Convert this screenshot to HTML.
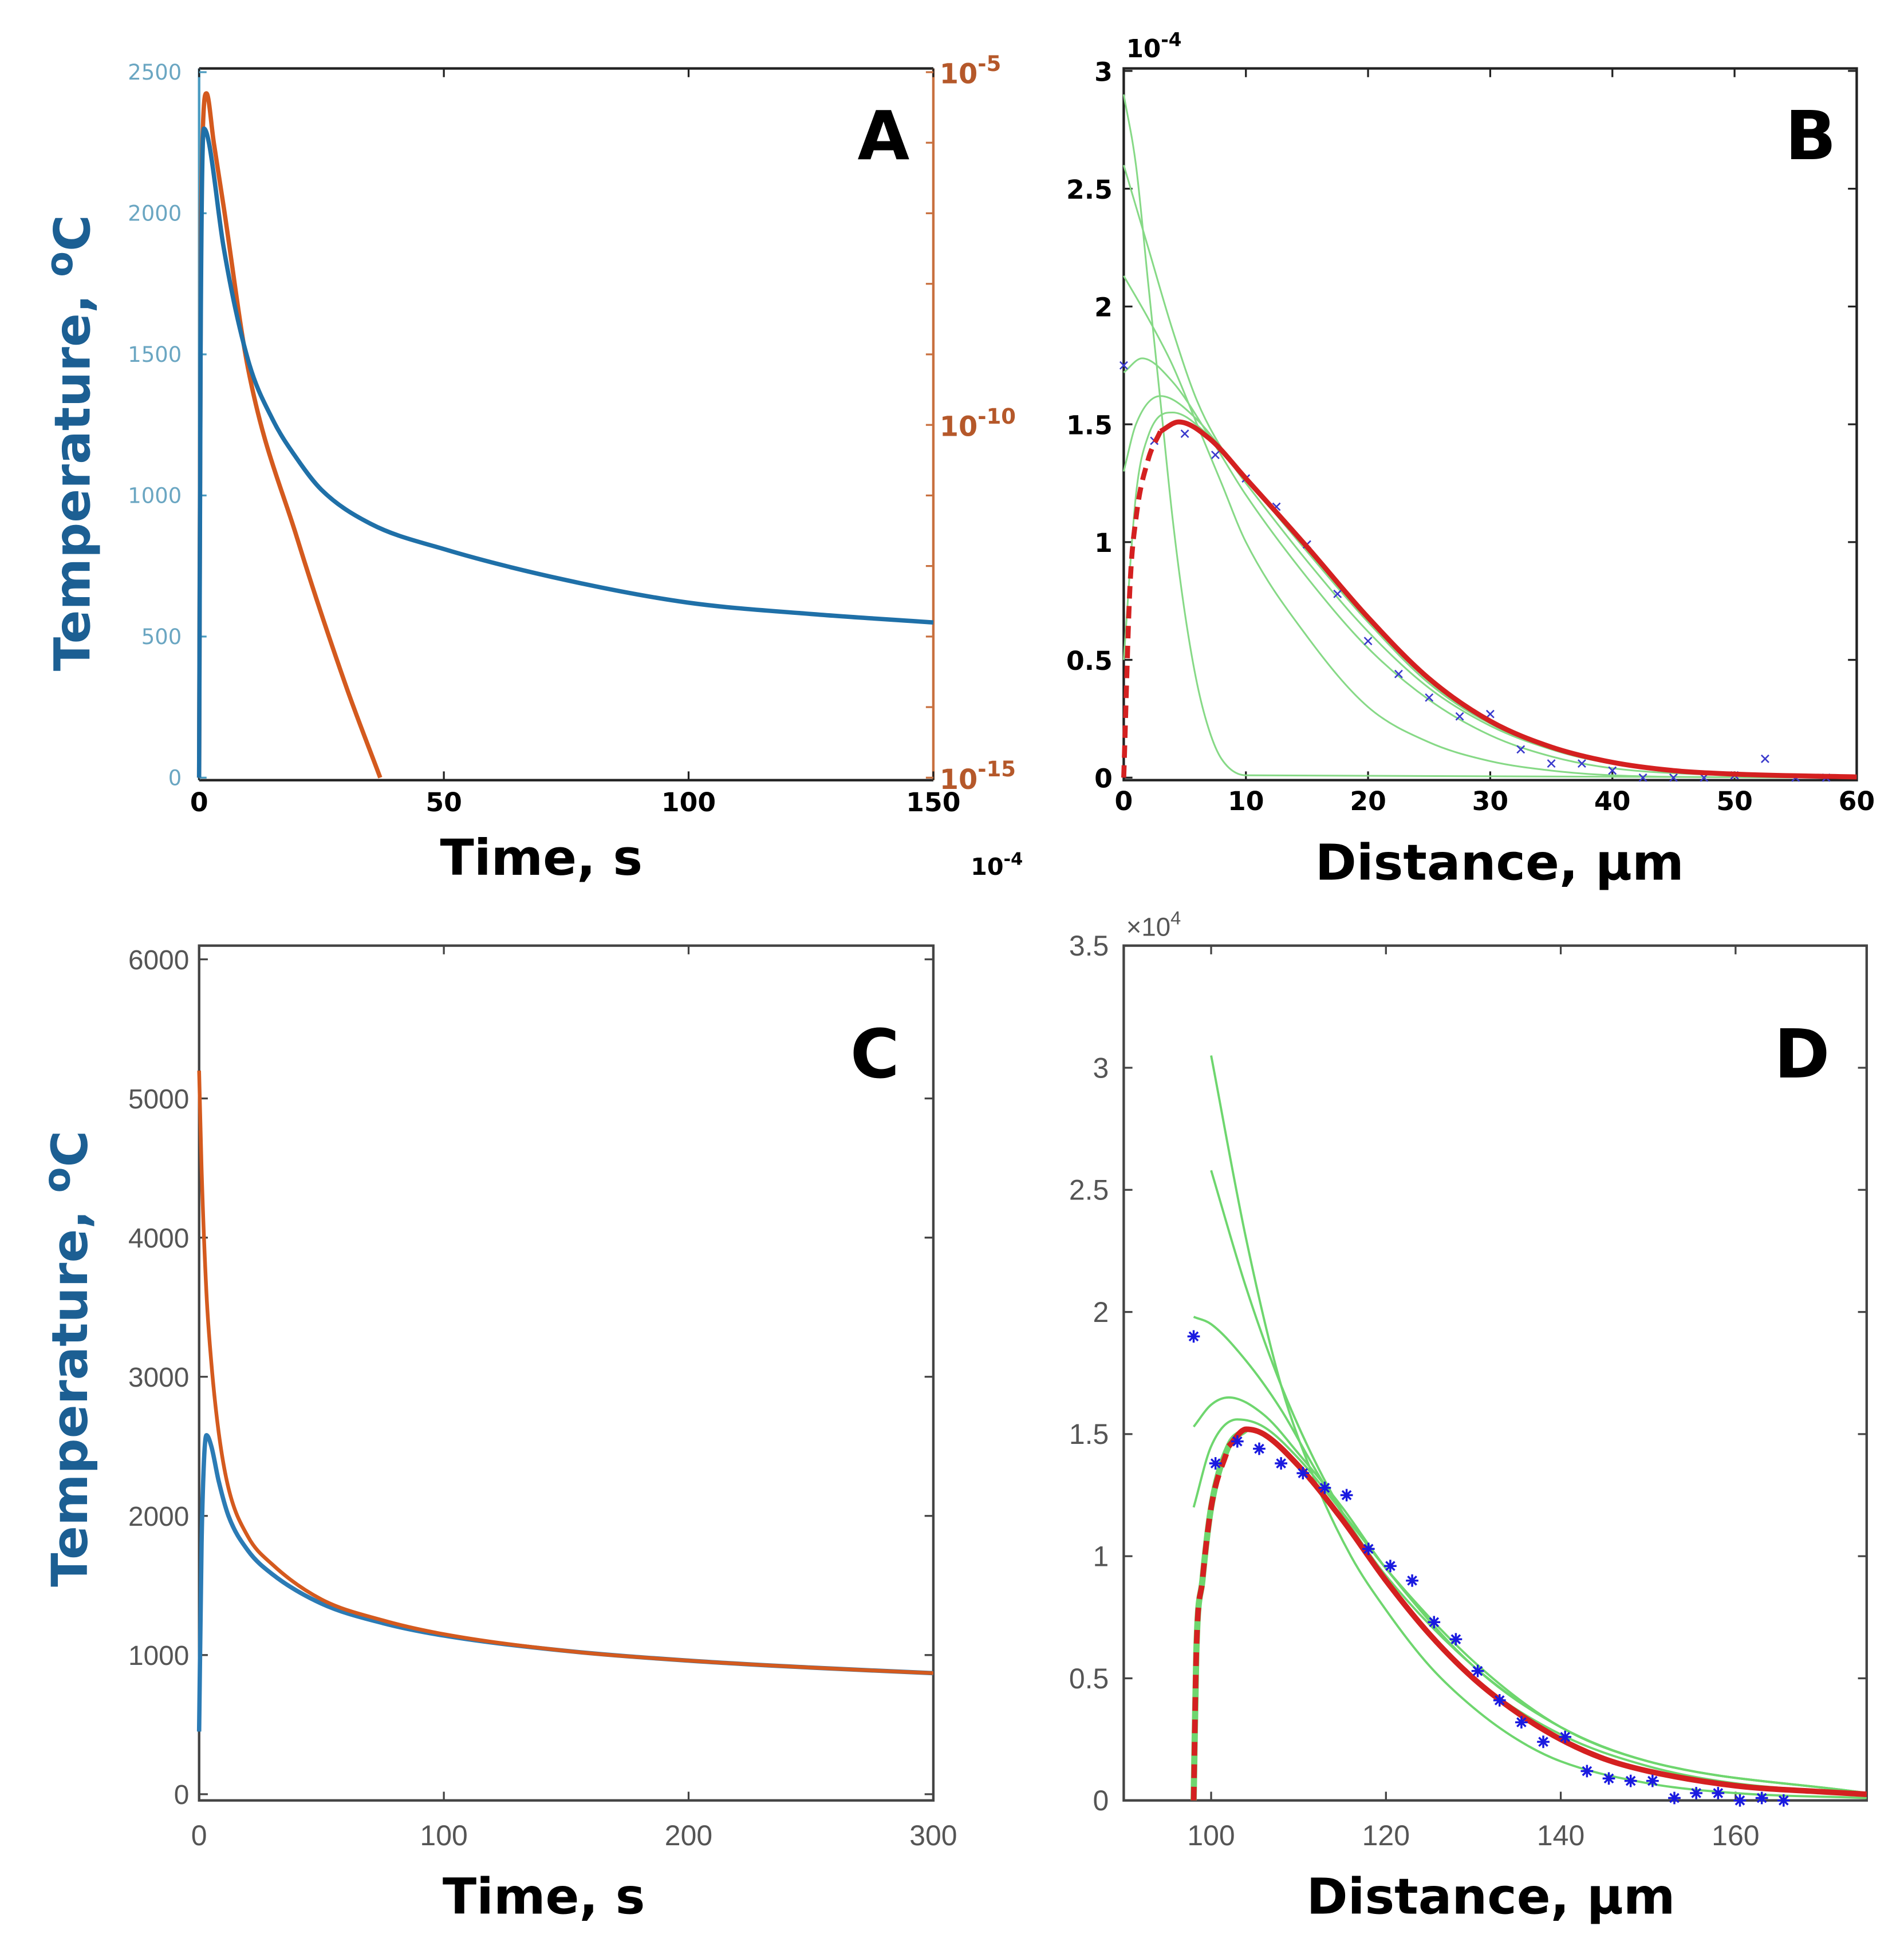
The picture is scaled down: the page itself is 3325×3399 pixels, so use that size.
<!DOCTYPE html>
<html><head><meta charset="utf-8"><style>
html,body{margin:0;padding:0;background:#fff}
svg{display:block}
text{font-family:"Liberation Sans","DejaVu Sans",sans-serif}
.vb{font-family:"DejaVu Sans","Liberation Sans",sans-serif;font-weight:bold}
.vn{font-family:"DejaVu Sans","Liberation Sans",sans-serif;font-weight:normal}
</style></head><body>
<svg id="fig" xmlns="http://www.w3.org/2000/svg" width="3325" height="3399" viewBox="0 0 1530 1564" preserveAspectRatio="none">
<rect x="0" y="0" width="1530" height="1564" fill="#fff"/>
<g id="g"></g>
</svg>
<script>
// ---- Panel A data ----
const aTime=[0,0.3,1,2,5,10,15,20,25,35,50,75,100,125,150];
const aTemp=[0,1500,2300,2250,1880,1480,1270,1130,1020,900,810,700,620,580,550];
const aDiffTime=[0,0.4,1.5,3,5,10,20,30,37];
const aDiffLog=[-15,-7,-5.3,-6.0,-6.9,-9.2,-11.6,-13.7,-15];
const aXTicks=[0,50,100,150];
const aYTicks=[0,500,1000,1500,2000,2500];
const aRTicks=[-15,-10,-5];
// ---- Panel B data ----
const bX=[0,0.5,1,2,3,4.5,7,10,15,20,25,30,35,40,45,50,60];
const bRed=[0,0.8,1.1,1.35,1.47,1.51,1.44,1.27,0.98,0.68,0.42,0.24,0.13,0.065,0.03,0.015,0.003];
const bG1x=[0,1,2,3,4,5,6,7,8,10,60];
const bG1=[2.9,2.6,2.1,1.6,1.1,0.7,0.4,0.2,0.08,0.01,0];
const bG2x=[0,2,4,6,8,10,15,20,25,30,35,40,50,60];
const bG2=[2.6,2.25,1.9,1.6,1.4,1.27,0.97,0.67,0.41,0.23,0.12,0.06,0.015,0.003];
const bG3x=[0,2,4,6,8,10,15,20,25,30,35,40,50,60];
const bG3=[2.13,1.95,1.75,1.5,1.25,1.0,0.6,0.3,0.15,0.07,0.03,0.01,0.002,0];
const bG4x=[0,1.5,4,7,10,15,20,25,30,35,40,50,60];
const bG4=[1.72,1.78,1.68,1.45,1.2,0.85,0.55,0.33,0.18,0.09,0.04,0.01,0.002];
const bG5x=[0,1,3,6,10,15,20,25,30,35,40,50,60];
const bG5=[1.3,1.5,1.62,1.52,1.25,0.92,0.62,0.38,0.22,0.12,0.06,0.02,0.003];
const bG6x=[0,1,2,4,7,10,15,20,25,30,40,50,60];
const bG6=[0.5,1.2,1.45,1.55,1.45,1.27,0.96,0.66,0.4,0.23,0.06,0.014,0.003];
const bPx=[0,2.5,5,7.5,10,12.5,15,17.5,20,22.5,25,27.5,30,32.5,35,37.5,40,42.5,45,47.5,50,52.5,55,57.5];
const bPy=[1.75,1.43,1.46,1.37,1.27,1.15,0.99,0.78,0.58,0.44,0.34,0.26,0.27,0.12,0.06,0.06,0.03,0,0,0,0.01,0.08,0,0];
const bXTicks=[0,10,20,30,40,50,60];
const bYTicks=[0,0.5,1,1.5,2,2.5,3];
// ---- Panel C data ----
const cTimeO=[0,1,3,5,8,12,20,30,50,75,100,150,200,250,300];
const cOrange=[5200,4500,3600,3100,2600,2200,1850,1650,1400,1250,1150,1030,960,910,870];
const cTimeB=[0,1,2,3,5,8,12,20,30,50,75,100,150,200,250,300];
const cBlue=[450,1800,2400,2580,2500,2250,2000,1750,1580,1370,1230,1140,1030,960,910,870];
const cXTicks=[0,100,200,300];
const cYTicks=[0,1000,2000,3000,4000,5000,6000];
// ---- Panel D data ----
const dX=[98,98.3,99,100,102,104,106,110,115,120,125,130,135,140,145,150,160,170,175];
const dRed=[0,0.6,0.9,1.2,1.45,1.52,1.5,1.37,1.15,0.9,0.68,0.5,0.36,0.25,0.17,0.12,0.06,0.035,0.025];
const dG1x=[100,104,108,112,116,120,125,130,135,140,150,160,175];
const dG1=[3.05,2.3,1.7,1.3,1.0,0.78,0.55,0.38,0.25,0.16,0.07,0.03,0.01];
const dG2x=[100,104,108,112,116,120,125,130,140,150,160,175];
const dG2=[2.58,2.1,1.7,1.38,1.12,0.9,0.68,0.5,0.27,0.14,0.07,0.03];
const dG3x=[98,100,104,108,112,116,120,130,140,150,175];
const dG3=[1.98,1.95,1.8,1.6,1.35,1.12,0.92,0.55,0.3,0.16,0.03];
const dG4x=[98,100,102,106,110,115,120,130,140,150,175];
const dG4=[1.53,1.62,1.65,1.58,1.42,1.2,0.95,0.55,0.3,0.16,0.03];
const dG5x=[98,100,103,106,110,115,120,130,140,150,175];
const dG5=[1.2,1.45,1.56,1.53,1.4,1.18,0.95,0.57,0.3,0.16,0.03];
const dPx=[98,100.5,103,105.5,108,110.5,113,115.5,118,120.5,123,125.5,128,130.5,133,135.5,138,140.5,143,145.5,148,150.5,153,155.5,158,160.5,163,165.5];
const dPy=[1.9,1.38,1.47,1.44,1.38,1.34,1.28,1.25,1.03,0.96,0.90,0.73,0.66,0.53,0.41,0.32,0.24,0.26,0.12,0.09,0.08,0.08,0.01,0.03,0.03,0,0.01,0];
const dXTicks=[100,120,140,160];
const dYTicks=[0,0.5,1,1.5,2,2.5,3,3.5];

const NS='http://www.w3.org/2000/svg';
const root=document.getElementById('g');
function mk(tag,attrs,parent){const e=document.createElementNS(NS,tag);for(const k in attrs)e.setAttribute(k,attrs[k]);(parent||root).appendChild(e);return e;}
function lin(d0,d1,r0,r1){return v=>r0+(v-d0)/(d1-d0)*(r1-r0);}
// monotone cubic (Fritsch-Carlson) in screen space
function smooth(xs,ys,sx,sy){
  const X=xs.map(sx),Y=ys.map(sy),n=X.length;
  if(n<2)return '';
  const d=[],m=new Array(n);
  for(let i=0;i<n-1;i++)d.push((Y[i+1]-Y[i])/(X[i+1]-X[i]||1e-6));
  m[0]=d[0];m[n-1]=d[n-2];
  for(let i=1;i<n-1;i++){m[i]=(d[i-1]*d[i]<=0)?0:(d[i-1]+d[i])/2;}
  for(let i=0;i<n-1;i++){
    if(d[i]===0){m[i]=0;m[i+1]=0;continue;}
    const a=m[i]/d[i],b=m[i+1]/d[i],s=a*a+b*b;
    if(s>9){const t=3/Math.sqrt(s);m[i]=t*a*d[i];m[i+1]=t*b*d[i];}
  }
  let p='M'+X[0].toFixed(2)+','+Y[0].toFixed(2);
  for(let i=0;i<n-1;i++){
    const h=(X[i+1]-X[i])/3;
    p+=' C'+(X[i]+h).toFixed(2)+','+(Y[i]+m[i]*h).toFixed(2)+' '+(X[i+1]-h).toFixed(2)+','+(Y[i+1]-m[i+1]*h).toFixed(2)+' '+X[i+1].toFixed(2)+','+Y[i+1].toFixed(2);
  }
  return p;
}
function txt(s,x,y,attrs,parent){const t=mk('text',Object.assign({x:x,y:y},attrs),parent);t.textContent=s;return t;}

// ================= Panel A =================
const A={l:160,r:750,t:55,b:627};
const axA=lin(0,150,A.l,A.r), ayA=lin(0,2500,A.b-2,A.t+3), ayAR=lin(-15,-5,A.b-2,A.t+3);
const gA=mk('g',{});


const fA=mk('path',{d:`M${A.l},${A.t}H${A.r}M${A.l},${A.b}H${A.r}`,stroke:'#222','stroke-width':2,fill:'none'},gA);


const laA=mk('line',{x1:A.l,y1:A.t,x2:A.l,y2:A.b,stroke:'#4a9bc0','stroke-width':2},gA);


const raA=mk('line',{x1:A.r,y1:A.t,x2:A.r,y2:A.b,stroke:'#c8703f','stroke-width':2},gA);


aXTicks.forEach(v=>{
  const x=axA(v);
  const tk=mk('path',{d:`M${x},${A.b}v-7M${x},${A.t}v7`,stroke:'#222','stroke-width':1.5},gA);
  
  
  const t=txt(String(v),x,652,{'font-size':21,'text-anchor':'middle',fill:'#000',class:'vb'},gA);
  
  
});
aYTicks.forEach(v=>{
  const y=ayA(v);
  const tk=mk('line',{x1:A.l,y1:y,x2:A.l+6,y2:y,stroke:'#4a9bc0','stroke-width':1.5},gA);
  
  
  const t=txt(String(v),146,y+6,{'font-size':17,'text-anchor':'end',fill:'#6aa6c2',class:'vn'},gA);
  
  
});
for(let k=-15;k<=-5;k++){
  const y=ayAR(k);
  const tk=mk('line',{x1:A.r,y1:y,x2:A.r-6,y2:y,stroke:'#c8703f','stroke-width':1.5},gA);
  
  
}
aRTicks.forEach(k=>{
  const y=ayAR(k);
  const t=mk('text',{x:755,y:y+9,'font-size':22,fill:'#b5582a',class:'vb'},gA);
  
  
  t.innerHTML='10<tspan dy="-10" font-size="17">'+k+'</tspan>';
});
const pAO=mk('path',{d:smooth(aDiffTime,aDiffLog,axA,ayAR),stroke:'#d45a1e','stroke-width':3.5,fill:'none'},gA);


const pAB=mk('path',{d:smooth(aTime,aTemp,axA,ayA),stroke:'#1f70a8','stroke-width':3.5,fill:'none'},gA);


const lA=txt('A',710,128,{'font-size':54,'text-anchor':'middle',class:'vb'},gA);


const xtA=txt('Time, s',435,703,{'font-size':40,'text-anchor':'middle',class:'vb'},gA);


const ytA=mk('text',{x:0,y:0,transform:'translate(72,356) rotate(-90)','font-size':40,'text-anchor':'middle',fill:'#1c5f93',class:'vb'},gA);


ytA.innerHTML='Temperature, <tspan dy="-14" font-size="30">o</tspan><tspan dy="14">C</tspan>';
const stray=mk('text',{x:780,y:703,'font-size':19,class:'vb'},gA);


stray.innerHTML='10<tspan dy="-8" font-size="14">-4</tspan>';

// ================= Panel B =================
const B={l:903,r:1492,t:55,b:627};
const axB=lin(0,60,B.l,B.r), ayB=lin(0,3,B.b-2,B.t+2);
const gB=mk('g',{});


const fB=mk('rect',{x:B.l,y:B.t,width:B.r-B.l,height:B.b-B.t,fill:'none',stroke:'#222','stroke-width':2},gB);


bXTicks.forEach(v=>{
  const x=axB(v);
  const tk=mk('path',{d:`M${x},${B.b}v-7M${x},${B.t}v7`,stroke:'#222','stroke-width':1.5},gB);
  
  
  const t=txt(String(v),x,651,{'font-size':21,'text-anchor':'middle',class:'vb'},gB);
  
  
});
bYTicks.forEach(v=>{
  const y=ayB(v);
  const tk=mk('path',{d:`M${B.l},${y}h7M${B.r},${y}h-7`,stroke:'#222','stroke-width':1.5},gB);
  
  
  const t=txt(String(v),894,y+8,{'font-size':21,'text-anchor':'end',class:'vb'},gB);
  
  
});
const eB=mk('text',{x:905,y:46,'font-size':20,class:'vb'},gB);


eB.innerHTML='10<tspan dy="-9" font-size="15">-4</tspan>';
[[bG1x,bG1],[bG2x,bG2],[bG3x,bG3],[bG4x,bG4],[bG5x,bG5],[bG6x,bG6]].forEach(s=>{
  const p=mk('path',{d:smooth(s[0],s[1],axB,ayB),stroke:'#86d986','stroke-width':1.4,fill:'none'},gB);
  
  
});
bPx.forEach((x,i)=>{
  const cx=axB(x),cy=ayB(bPy[i]);
  const m=mk('path',{d:`M${cx-3},${cy-3}L${cx+3},${cy+3}M${cx-3},${cy+3}L${cx+3},${cy-3}`,stroke:'#3a3acc','stroke-width':1.2},gB);
  
  
});
const rB1=mk('path',{d:smooth(bX.slice(0,5),bRed.slice(0,5),axB,ayB),stroke:'#d42020','stroke-width':4,fill:'none','stroke-dasharray':'10 6'},gB);


const rB2=mk('path',{d:smooth(bX.slice(4),bRed.slice(4),axB,ayB),stroke:'#d42020','stroke-width':4,fill:'none'},gB);


const lB=txt('B',1455,128,{'font-size':54,'text-anchor':'middle',class:'vb'},gB);


const xtB=txt('Distance, μm',1205,707,{'font-size':40,'text-anchor':'middle',class:'vb'},gB);



// ================= Panel C =================
const C={l:160,r:750,t:760,b:1447};
const axC=lin(0,300,C.l,C.r), ayC=lin(0,6000,C.b-5,C.t+11);
const gC=mk('g',{});


const fC=mk('rect',{x:C.l,y:C.t,width:C.r-C.l,height:C.b-C.t,fill:'none',stroke:'#444','stroke-width':2},gC);


cXTicks.forEach(v=>{
  const x=axC(v);
  const tk=mk('path',{d:`M${x},${C.b}v-7M${x},${C.t}v7`,stroke:'#444','stroke-width':1.5},gC);
  
  
  const t=txt(String(v),x,1483,{'font-size':23,'text-anchor':'middle',fill:'#555'},gC);
  
  
});
cYTicks.forEach(v=>{
  const y=ayC(v);
  const tk=mk('path',{d:`M${C.l},${y}h7M${C.r},${y}h-7`,stroke:'#444','stroke-width':1.5},gC);
  
  
  const t=txt(String(v),152,y+8,{'font-size':22,'text-anchor':'end',fill:'#555'},gC);
  
  
});
const cb=mk('path',{d:smooth(cTimeB,cBlue,axC,ayC),stroke:'#2b7bb5','stroke-width':3.5,fill:'none'},gC);


const co=mk('path',{d:smooth(cTimeO,cOrange,axC,ayC),stroke:'#d45a1e','stroke-width':3,fill:'none'},gC);


const lC=txt('C',703,866,{'font-size':54,'text-anchor':'middle',class:'vb'},gC);


const xtC=txt('Time, s',437,1538,{'font-size':40,'text-anchor':'middle',class:'vb'},gC);


const ytC=mk('text',{x:0,y:0,transform:'translate(70,1092) rotate(-90)','font-size':40,'text-anchor':'middle',fill:'#1c5f93',class:'vb'},gC);


ytC.innerHTML='Temperature, <tspan dy="-14" font-size="30">o</tspan><tspan dy="14">C</tspan>';

// ================= Panel D =================
const D={l:903,r:1500,t:760,b:1447};
const axD=lin(90,175,D.l,D.r), ayD=lin(0,3.5,D.b,D.t);
const gD=mk('g',{});


const fD=mk('rect',{x:D.l,y:D.t,width:D.r-D.l,height:D.b-D.t,fill:'none',stroke:'#444','stroke-width':2},gD);


dXTicks.forEach(v=>{
  const x=axD(v);
  const tk=mk('path',{d:`M${x},${D.b}v-7M${x},${D.t}v7`,stroke:'#444','stroke-width':1.5},gD);
  
  
  const t=txt(String(v),x,1483,{'font-size':23,'text-anchor':'middle',fill:'#555'},gD);
  
  
});
dYTicks.forEach(v=>{
  const y=ayD(v);
  const tk=mk('path',{d:`M${D.l},${y}h7M${D.r},${y}h-7`,stroke:'#444','stroke-width':1.5},gD);
  
  
  const t=txt(String(v),891,y+8,{'font-size':23,'text-anchor':'end',fill:'#555'},gD);
  
  
});
const eD=mk('text',{x:905,y:752,'font-size':21,fill:'#555'},gD);


eD.innerHTML='×10<tspan dy="-9" font-size="15">4</tspan>';
[[dG1x,dG1],[dG2x,dG2],[dG3x,dG3],[dG4x,dG4],[dG5x,dG5]].forEach(s=>{
  const p=mk('path',{d:smooth(s[0],s[1],axD,ayD),stroke:'#6ed66e','stroke-width':1.8,fill:'none'},gD);
  
  
});
const g6=mk('path',{d:smooth(dX.slice(0,6),dRed.slice(0,6),axD,ayD),stroke:'#6ed66e','stroke-width':5,fill:'none'},gD);


const rD1=mk('path',{d:smooth(dX.slice(0,5),dRed.slice(0,5),axD,ayD),stroke:'#d42020','stroke-width':4.5,fill:'none','stroke-dasharray':'11 7'},gD);


const rD2=mk('path',{d:smooth(dX.slice(4),dRed.slice(4),axD,ayD),stroke:'#d42020','stroke-width':4.5,fill:'none'},gD);


dPx.forEach((x,i)=>{
  const cx=axD(x),cy=ayD(dPy[i]);
  const m=mk('path',{d:`M${cx-5},${cy}H${cx+5}M${cx},${cy-5}V${cy+5}M${cx-3.5},${cy-3.5}L${cx+3.5},${cy+3.5}M${cx-3.5},${cy+3.5}L${cx+3.5},${cy-3.5}`,stroke:'#1a1ae0','stroke-width':1.6},gD);
  
  
});
const lD=txt('D',1448,866,{'font-size':54,'text-anchor':'middle',class:'vb'},gD);


const xtD=txt('Distance, μm',1198,1538,{'font-size':40,'text-anchor':'middle',class:'vb'},gD);


</script>
</body></html>
